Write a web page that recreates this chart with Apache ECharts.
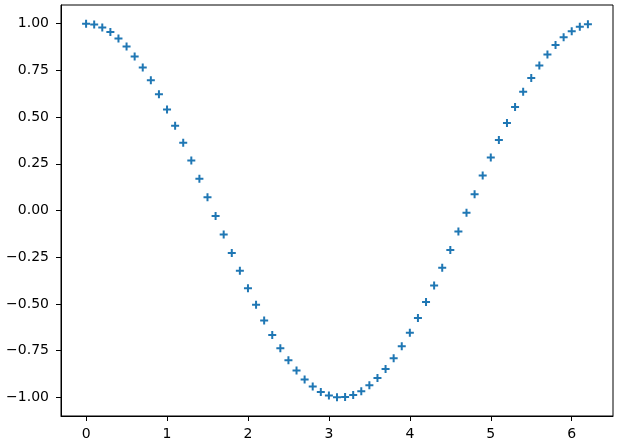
<!DOCTYPE html>
<html><head><meta charset="utf-8">
<script src="https://cdn.jsdelivr.net/npm/echarts@6/dist/echarts.min.js"></script>
<style>html,body{margin:0;padding:0;background:#fff}#c{width:618px;height:443px}</style>
</head><body><div id="c"></div>
<script>
const xValues = [0.0,0.1,0.2,0.3,0.4,0.5,0.6,0.7,0.8,0.9,1.0,1.1,1.2,1.3,1.4,1.5,1.6,1.7,1.8,1.9,2.0,2.1,2.2,2.3,2.4,2.5,2.6,2.7,2.8,2.9,3.0,3.1,3.2,3.3,3.4,3.5,3.6,3.7,3.8,3.9,4.0,4.1,4.2,4.3,4.4,4.5,4.6,4.7,4.8,4.9,5.0,5.1,5.2,5.3,5.4,5.5,5.6,5.7,5.8,5.9,6.0,6.1,6.2];
const yValues = [1.000,0.995,0.980,0.955,0.921,0.878,0.825,0.765,0.697,0.622,0.540,0.454,0.362,0.267,0.170,0.071,-0.029,-0.129,-0.227,-0.323,-0.416,-0.505,-0.589,-0.666,-0.737,-0.801,-0.857,-0.904,-0.942,-0.971,-0.990,-0.999,-0.998,-0.987,-0.967,-0.936,-0.897,-0.848,-0.791,-0.726,-0.654,-0.575,-0.490,-0.401,-0.307,-0.211,-0.112,-0.012,0.087,0.187,0.284,0.378,0.469,0.554,0.635,0.709,0.776,0.835,0.886,0.927,0.960,0.983,0.997];
const xTicks = [0,1,2,3,4,5,6];
const yTicks = [-1.00,-0.75,-0.50,-0.25,0.00,0.25,0.50,0.75,1.00];

const chart = echarts.init(document.getElementById('c'), null, {renderer:'canvas'});
const font = {fontFamily:'DejaVu Sans', fontSize:14, color:'#000'};
chart.setOption({
  animation:false,
  grid:{left:61, top:5, width:552, height:411, show:true, borderColor:'#000', borderWidth:1, backgroundColor:'#fff'},
  xAxis:{type:'value', min:-0.31, max:6.51,
    axisLine:{show:true, onZero:false, lineStyle:{color:'#000', width:1}},
    axisTick:{show:true, inside:false, length:5, customValues:xTicks, lineStyle:{color:'#000'}},
    axisLabel:Object.assign({customValues:xTicks, margin:11, formatter:v=>String(Math.round(v))}, font),
    splitLine:{show:false}},
  yAxis:{type:'value', min:-1.1, max:1.1,
    axisLine:{show:true, onZero:false, lineStyle:{color:'#000', width:1}},
    axisTick:{show:true, inside:false, length:5, customValues:yTicks, lineStyle:{color:'#000'}},
    axisLabel:Object.assign({customValues:yTicks, margin:12, formatter:v=>v.toFixed(2).replace('-','\u2212').replace(/^\u22120\.00$/,'0.00')}, font),
    splitLine:{show:false}},
  series:[{type:'scatter', symbol:'path://M3,0H5V3H8V5H5V8H3V5H0V3H3Z', symbolSize:8,
    itemStyle:{color:'#1f77b4', opacity:1},
    data:xValues.map((x,i)=>[x,yValues[i]])}]
});
</script></body></html>
